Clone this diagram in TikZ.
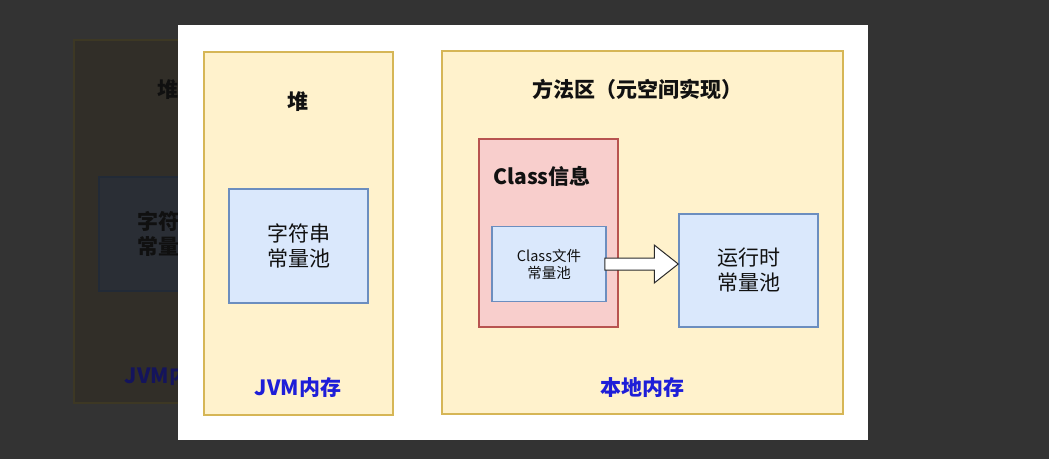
\documentclass[tikz,border=0pt]{standalone}
\usepackage{fontspec}
\newfontfamily\cjk{Noto Sans CJK SC}
\usetikzlibrary{calc}
\definecolor{bgdark}{HTML}{333333}
\definecolor{yfill}{HTML}{FFF2CC}
\definecolor{ydraw}{HTML}{D6B656}
\definecolor{bfill}{HTML}{DAE8FC}
\definecolor{bdraw}{HTML}{6C8EBF}
\definecolor{rfill}{HTML}{F8CECC}
\definecolor{rdraw}{HTML}{B85450}
\definecolor{lblue}{HTML}{1E1ED8}
\definecolor{txt}{HTML}{111111}
\definecolor{arrowdraw}{HTML}{2A2A2A}
\definecolor{gyfill}{HTML}{312E28}
\definecolor{gydraw}{HTML}{3D3824}
\definecolor{gbfill}{HTML}{2A2E35}
\definecolor{gbdraw}{HTML}{222A36}
\definecolor{gtxt}{HTML}{101010}
\definecolor{gblue}{HTML}{14145C}
\tikzset{
  box/.style={draw, line width=1.5pt, inner sep=0pt, align=center},
  ybox/.style={box, fill=yfill, draw=ydraw},
  bbox/.style={box, fill=bfill, draw=bdraw},
  rbox/.style={box, fill=rfill, draw=rdraw},
  gybox/.style={box, fill=gyfill, draw=gydraw},
  gbbox/.style={box, fill=gbfill, draw=gbdraw},
  big/.style={font=\cjk\fontsize{21}{25}\selectfont, text=txt},
  bigb/.style={font=\cjk\bfseries\fontsize{21}{25}\selectfont, text=txt},
  small/.style={font=\cjk\fontsize{14.5}{17}\selectfont, text=txt},
  bluelbl/.style={font=\cjk\bfseries\fontsize{21}{25}\selectfont, text=lblue},
  blockarrow/.style={draw=arrowdraw, fill=white, line width=1pt, line join=miter},
}
\begin{document}
\begin{tikzpicture}[x=1pt,y=-1pt]
\fill[bgdark] (0,0) rectangle (1049,459);
\useasboundingbox (0,0) rectangle (1049,459);
% ghost of the previous slide
\node[gybox, minimum width=189pt, minimum height=363pt] (gheap) at (168.5,221.5) {};
\node[gbbox, minimum width=139pt, minimum height=114pt] (gpool) at (168.5,234) {};
\node[font=\cjk\bfseries\fontsize{21}{25}\selectfont, text=gtxt, align=center] (gpooltxt) at (gpool.center) {字符串\\常量池};
\node[font=\cjk\bfseries\fontsize{21}{25}\selectfont, text=gtxt] (ghtitle) at (168,90) {堆};
\node[font=\cjk\bfseries\fontsize{21}{25}\selectfont, text=gblue] (gjvm) at (168,376) {JVM内存};
% white panel
\node[fill=white, draw=none, minimum width=690pt, minimum height=415pt, inner sep=0pt] (panel) at (523,232.5) {};
% left: heap
\node[ybox, minimum width=189pt, minimum height=363pt] (heap) at (298.5,233.5) {};
\node[bigb] (htitle) at (298,102) {堆};
\node[bbox, big, minimum width=139pt, minimum height=114pt] (spool) at (298.5,246) {字符串\\常量池};
\node[bluelbl] (jvm) at (298,388) {JVM内存};
% right: method area
\node[ybox, minimum width=401pt, minimum height=363pt] (meta) at (642.5,232.5) {};
\node[bigb] (mtitle) at (637,89) {方法区（元空间实现）};
\node[rbox, minimum width=139pt, minimum height=188pt] (cls) at (548.5,233) {};
\node[bigb] (clstitle) at (542,176) {Class信息};
\node[bbox, small, minimum width=114pt, minimum height=75pt] (cf) at (549,264) {Class文件\\常量池};
\node[bbox, big, minimum width=139pt, minimum height=113pt] (rt) at (748.5,270.5) {运行时\\常量池};
\node[bluelbl] (native) at (642,388) {本地内存};
% block arrow
\coordinate (tip) at (rt.west |- cf.east);
\draw[blockarrow] ($(cf.east)+(-2,-6)$) -- ($(tip)+(-24,-6)$) -- ($(tip)+(-24,-19)$) -- (tip) -- ($(tip)+(-24,19)$) -- ($(tip)+(-24,6)$) -- ($(cf.east)+(-2,6)$) -- cycle;
\end{tikzpicture}
\end{document}
